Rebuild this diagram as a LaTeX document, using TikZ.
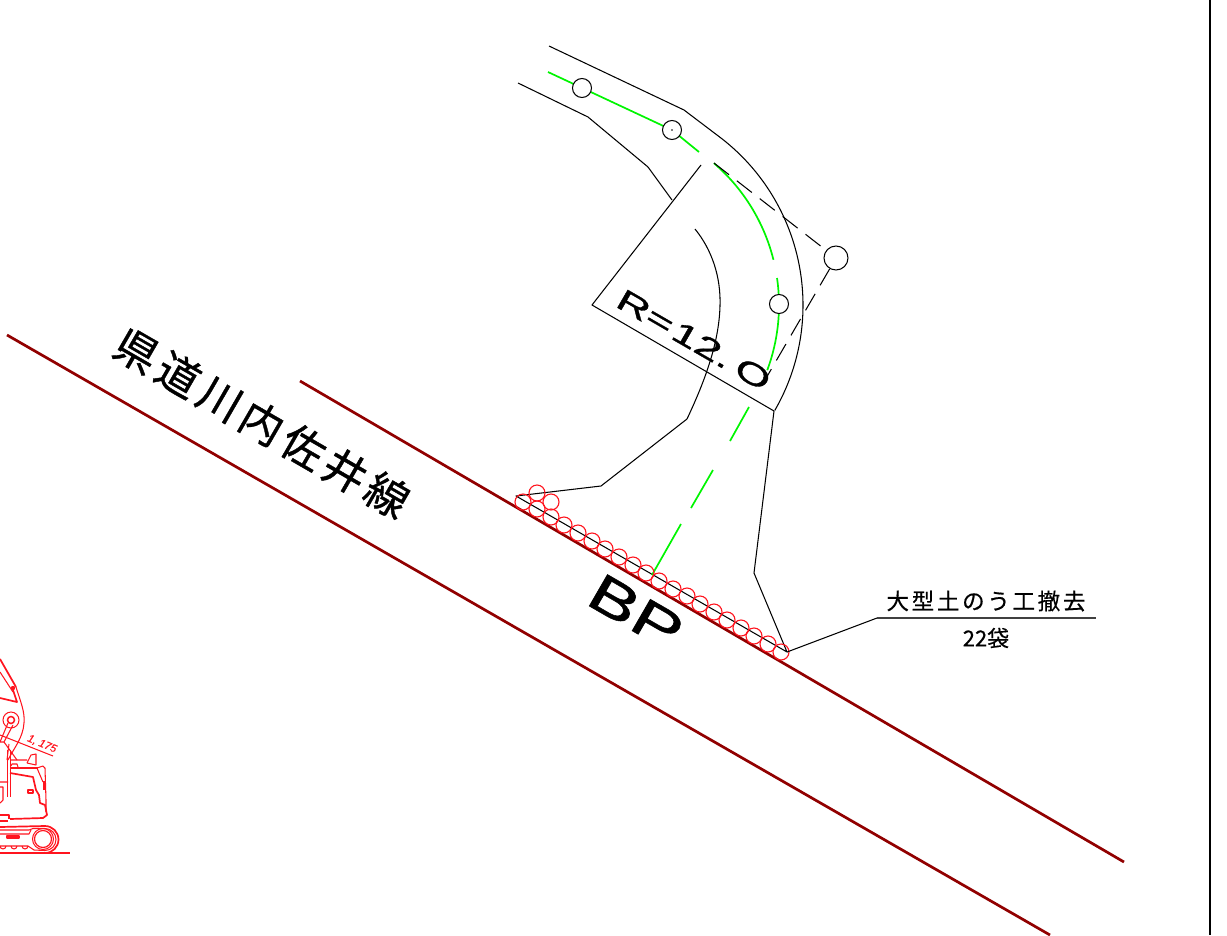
\documentclass[tikz,border=0pt]{standalone}
\usepackage{fontspec}
\usepackage{graphicx}
\setmainfont{Liberation Sans}[FakeBold=0.6]
\newfontfamily\latinheavy[FakeBold=0.9]{Liberation Sans}
\newfontfamily\cjk[FakeBold=0.5]{Noto Sans CJK JP}
\newfontfamily\cjkwide[LetterSpace=12,FakeBold=0.9]{Noto Sans CJK JP}
\newfontfamily\cjklabel[LetterSpace=12,FakeBold=0.5]{Noto Sans CJK JP}
\usetikzlibrary{calc}
\definecolor{roadred}{RGB}{145,0,0}
\definecolor{cadgreen}{RGB}{0,245,0}
\definecolor{cadred}{RGB}{255,20,30}
\tikzset{
  thinblack/.style={draw=black,line width=1.05pt,line join=round},
  centre/.style={draw=cadgreen,line width=1.7pt},
  road/.style={draw=roadred,line width=2.7pt},
  tangent/.style={draw=black,line width=1.05pt,dash pattern=on 19pt off 10pt},
  ipoint/.style={circle,draw=black,line width=1.05pt,fill=white,inner sep=0pt,minimum size=19pt},
  bag/.style={circle,draw=cadred,line width=1.1pt,inner sep=0pt,minimum size=16pt},
  plain/.style={inner sep=0pt,outer sep=0pt},
  mach/.style={draw=cadred,line width=1.05pt,line join=round},
  machthick/.style={draw=cadred,line width=1.7pt,line join=round},
}
\begin{document}
\begin{tikzpicture}[x=1pt,y=-1pt]
\useasboundingbox (0,0) rectangle (1227,935);
% frame edge
\coordinate (barT) at (1210,0); \coordinate (barB) at (1210,935);
\draw[line width=2.5pt] (barT) -- (barB);
% roads
\coordinate (r1a) at (7,335); \coordinate (r1b) at (1050,935);
\coordinate (r2a) at (300,381); \coordinate (r2b) at (1124,862);
\draw[road] (r1a) -- (r1b);
\draw[road] (r2a) -- (r2b);
% geometry
\coordinate (c) at (592,305);
\coordinate (rad1) at (701,165);
\coordinate (rad2) at (774,411);
\coordinate (outS) at (549,46);
\coordinate (outB) at (684,110);
\coordinate (outA) at ($(c)+(-52:211)$);
\coordinate (outL) at (754,573);
\coordinate (toeR) at (787,652);
\coordinate (inS) at (518,83);
\coordinate (inB) at (588,117);
\coordinate (inC) at (648,167);
\coordinate (inD) at (672,200);
\coordinate (inE) at (687,419);
\coordinate (inF) at (601,486);
\coordinate (toeL) at (516,496);
\draw[thinblack] (rad1) -- (c) -- (rad2);
\draw[thinblack] (outS) -- (outB) -- (outA) arc[start angle=-52,end angle=30,radius=211];
\draw[thinblack] (rad2) -- (outL) -- (toeR) -- (toeL) -- (inF) -- (inE);
\draw[thinblack] (inS) -- (inB) -- (inC) -- (inD);
\draw[thinblack] (695,229) .. controls (712,250) and (721,277) .. (720,306) .. controls (719,345) and (703,385) .. (inE);
% centre line
\coordinate (gS) at (548,72);
\coordinate (gB) at (672,130);
\coordinate (gE) at (699,152);
\coordinate (gA) at ($(c)+(-49.3:187)$);
\coordinate (gD1a) at (749,407); \coordinate (gD1b) at (730,441);
\coordinate (gD2a) at (713,470); \coordinate (gD2b) at (691,508);
\coordinate (gD3a) at (681,524); \coordinate (gD3b) at (652,575);
\draw[centre] (gS) -- (gB) -- (gE);
\draw[centre] (gA) arc[start angle=-49.3,end angle=-14,radius=187];
\draw[centre] ($(c)+(-8.3:187)$) arc[start angle=-8.3,end angle=20.4,radius=187];
\draw[centre] (gD1a) -- (gD1b);
\draw[centre] (gD2a) -- (gD2b);
\draw[centre] (gD3a) -- (gD3b);
% tangent lines
\coordinate (tanS) at (714,163);
\coordinate (tanE) at (758,392);
\node[ipoint,minimum size=24pt] (apex) at (836,258) {};
\draw[tangent] (tanS) -- (apex);
\draw[tangent] (apex) -- (tanE);
\node[ipoint] (ip1) at (582,88) {};
\node[ipoint] (ip2) at (672,130) {};
\node[ipoint] (ip3) at (779,304) {};
\fill (ip2.center) circle (0.9pt);
% sandbags
\foreach \n/\x/\y in {1/523/502,2/537/509,3/551/517,4/564/525,5/578/533,6/592/541,7/605/549,8/619/557,9/633/565,10/646/573,11/659/581,12/673/589,13/687/596,14/700/604,15/714/612,16/727/620,17/741/628,18/754/636,19/768/644,20/781/652,21/537/493,22/551/502}
  \node[bag] (bag\n) at (\x,\y) {};
% leader
\coordinate (ldA) at (877,618);
\coordinate (ldB) at (1096,618);
\draw[thinblack] (toeR) -- (ldA);
\draw[draw=black!75,line width=1.2pt] (ldA) -- (ldB);
% texts
\node[plain,rotate=-30] (road) at (262,423) {\fontsize{43}{43}\cjkwide 県道川内佐井線};
\node[plain,rotate=-30] (radius) at (694,340) {\scalebox{1.55}[1]{\fontsize{30}{30}\latinheavy R=\kern2pt 12.\kern5pt O}};
\node[plain,rotate=-30] (bp) at (636,612) {\scalebox{1.4}[1]{\fontsize{53}{53}\latinheavy BP}};
\node[plain] (bagtxt) at (986,601) {\fontsize{22.5}{22.5}\cjklabel 大型土のう工撤去};
\node[plain] (bagnum) at (986,638) {\fontsize{22}{22}\cjk 22袋};
% excavator
\node[plain,rotate=-23,text=cadred] (dim) at (42,744) {\fontsize{11}{11}\selectfont\itshape 1, 175};
\coordinate (dimA) at (0,735); \coordinate (dimB) at (53,756);
\draw[mach] (dimA) -- (dimB);
\coordinate (pin) at (13,688);
\draw[machthick] (0,659) -- (16,687);
\draw[mach] (0,672) -- (13,692);
\draw[machthick] (0,698) -- (17,702) -- (13,690);
\fill[cadred] (pin) circle (2.2pt);
\draw[mach] (16,687) .. controls (21,703) and (25,712) .. (24,723) .. controls (23,738) and (14,748) .. (8,760);
\node[circle,draw=cadred,line width=1pt,inner sep=0pt,minimum size=16pt] (pivot) at (11,720) {};
\node[circle,draw=cadred,line width=1.5pt,inner sep=0pt,minimum size=7pt] (pivotin) at (11,720) {};
\draw[mach] (8,723) -- (0,742);
\draw[mach] (13,725) -- (4,742) -- (0,742);
\draw[mach] (4,742) -- (17,760);
\draw[mach] (9,744) -- (7,760);
\draw[draw=cadred,line width=0.85pt] (7.5,750) -- (7.5,797) (10.5,750) -- (10.5,797);
\draw[mach] (0,782) -- (8,782) (0,787) -- (3,787) -- (3,800) -- (0,803);
% body
\draw[mach] (10,760) -- (27,760) (27,763) -- (31,755) -- (36,754) -- (36,765) -- (27,763);
\draw[mach] (11,766) -- (12,764) -- (17,764) -- (18,767);
\draw[mach] (10,768) -- (38,768);
\draw[machthick] (10,773) -- (33,777) -- (36,790) -- (39,795) -- (40,803) -- (45,805) -- (47,815) -- (43,818) -- (10,819);
\draw[mach] (37,768) -- (43,766) -- (45,768) -- (46,800) -- (46,812);
\draw[mach] (37,768) -- (43,782);
\draw[machthick] (44,781) -- (44,790);
\draw[machthick] (28,790) rectangle (33,793);
% lower
\draw[machthick] (0,815) -- (9,815) -- (9,819) (0,821) -- (8,821);
\draw[machthick] (0,827) -- (45,826) arc[start angle=-90,end angle=90,radius=13.5] -- (0,853);
\draw[mach] (0,830) -- (29,830) -- (33,828.5) -- (45,828.5) arc[start angle=-90,end angle=90,radius=11] -- (34,850) -- (28,846) -- (0,846);
\node[circle,draw=cadred,line width=1.2pt,inner sep=0pt,minimum size=17pt] (idler) at (43,839) {};
\node[circle,draw=cadred,line width=1pt,inner sep=0pt,minimum size=21pt] (idlerb) at (43,839) {};
\draw[mach] (0,834) -- (29,834) -- (31,830);
\draw[machthick] (7,836) rectangle (19,838);
\foreach \k in {3,14,25}
  \draw[mach] ($(\k,846)+(-3,0)$) arc[start angle=180,end angle=0,radius=3];
\coordinate (gndA) at (0,853); \coordinate (gndB) at (70,853);
\draw[mach] (gndA) -- (gndB);
\end{tikzpicture}
\end{document}
